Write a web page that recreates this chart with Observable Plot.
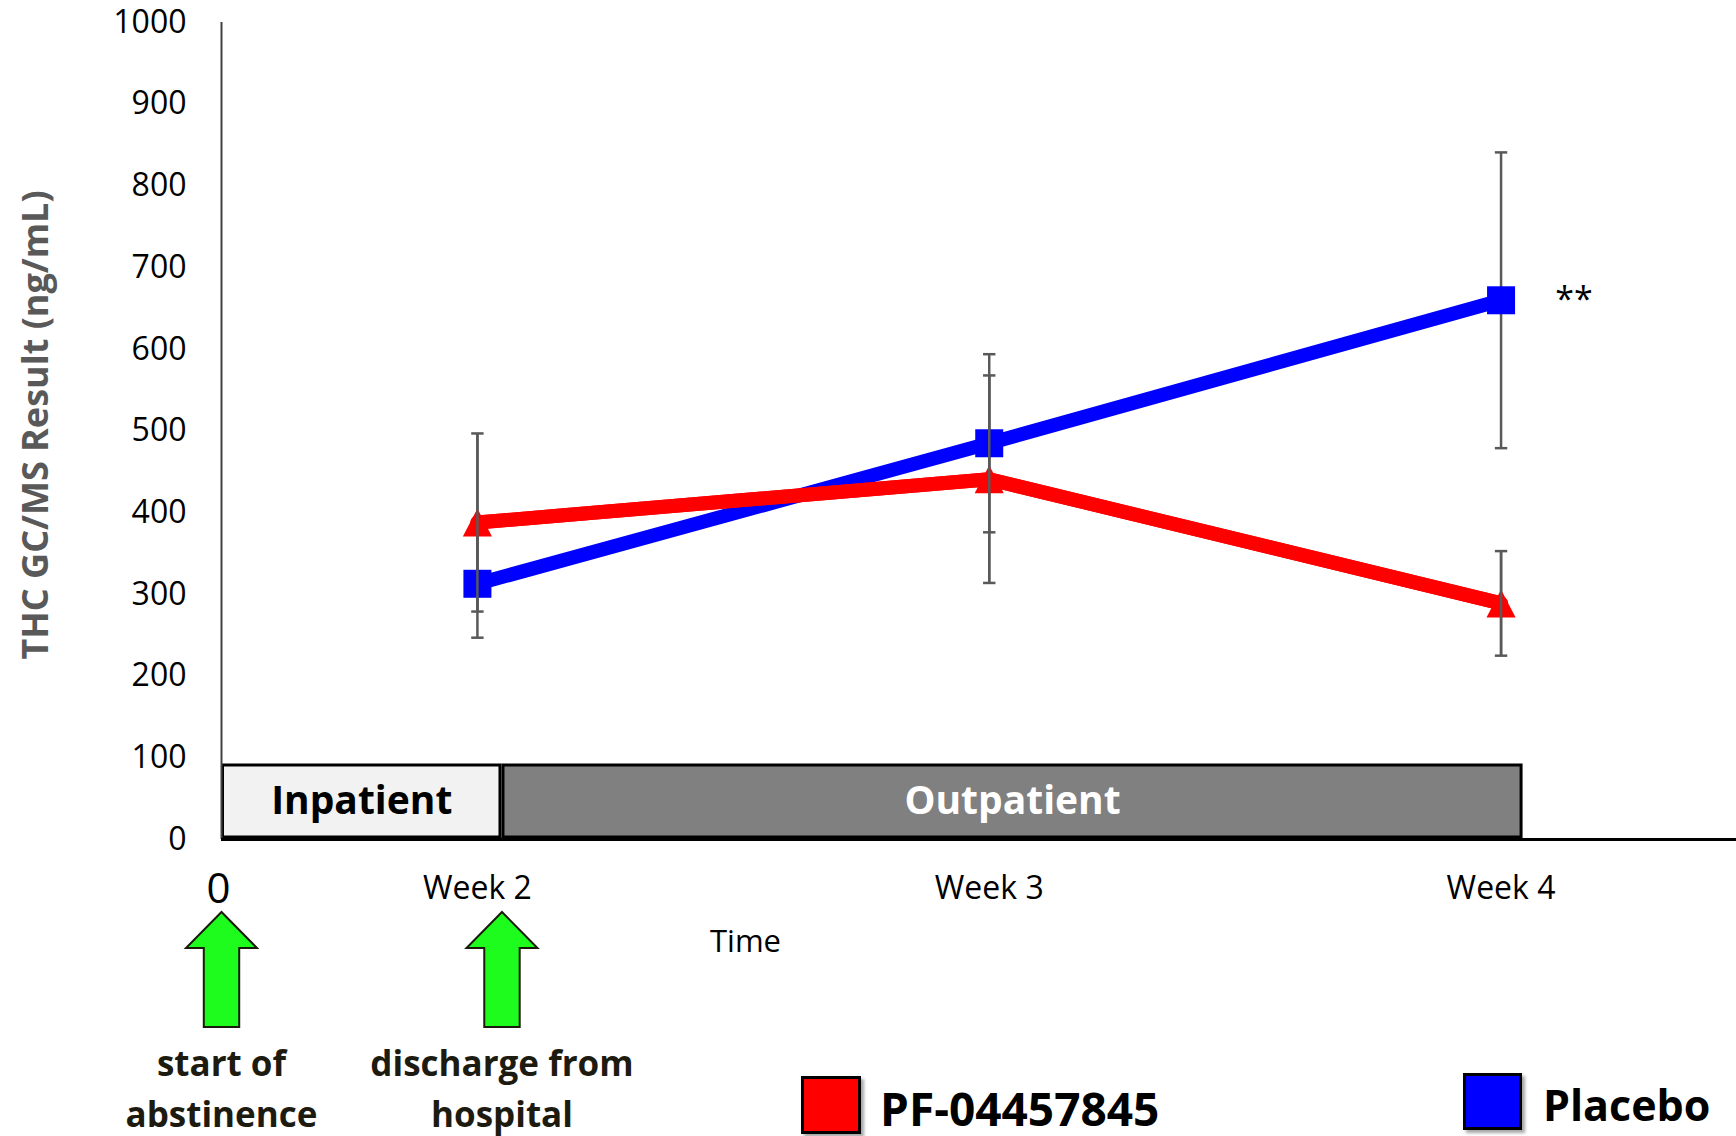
<!DOCTYPE html>
<html>
<head>
<meta charset="utf-8">
<script src="https://cdn.jsdelivr.net/npm/d3@7"></script>
<script src="https://cdn.jsdelivr.net/npm/@observablehq/plot@0.6"></script>
<style>
  body { margin: 0; background: #fff; }
  #figure { position: relative; width: 1736px; height: 1136px; font-family: "Open Sans", sans-serif; }
  .legend-item { position: absolute; display: flex; align-items: center; }
  .swatch { box-sizing: border-box; border: 3px solid #000; box-shadow: 3px 3px 3px rgba(0,0,0,0.35); }
  .legend-label { font-weight: 700; color: #000; line-height: 1.1; white-space: nowrap; }
</style>
</head>
<body>
<div id="figure"></div>
<script>
// Study weeks on the time axis and their labels
const weeks = [2, 3, 4];
const weekLabels = ["Week 2", "Week 3", "Week 4"];
const timeZero = 1.5;           // axis origin = start of abstinence
const originLabel = "0";

// THC GC/MS result (ng/mL), mean and standard error
const seriesNames = ["Placebo", "PF-04457845"];
const seriesColors = ["#0000ff", "#ff0000"];
const placeboMean = [313, 485, 660];
const placeboSem = [66, 109, 181];
const pfMean = [388, 441, 289];
const pfSem = [109, 127, 64];
const significance = ["", "", "**"];

// y axis ticks
const yTicks = [0, 100, 200, 300, 400, 500, 600, 700, 800, 900, 1000];
const yTitle = "THC GC/MS Result (ng/mL)";

// treatment phases along the time axis
const phaseNames = ["Inpatient", "Outpatient"];
const phaseStart = [1.5, 2.048];
const phaseEnd = [2.048, 4.043];
const phaseFill = ["#f2f2f2", "#808080"];
const phaseText = ["#000000", "#ffffff"];

// events marked with arrows below the axis
const eventAt = [1.5, 2.048];
const eventNames = ["start of\nabstinence", "discharge from\nhospital"];

// legend order
const legendNames = ["PF-04457845", "Placebo"];
const legendColors = ["#ff0000", "#0000ff"];

// ---- tables built from the arrays above ----
const means = [placeboMean, pfMean];
const sems = [placeboSem, pfSem];
const rows = seriesNames.flatMap((s, i) => weeks.map((w, j) => ({
  series: s, week: w, mean: means[i][j], sem: sems[i][j], sig: i === 0 ? significance[j] : ""
})));
const phases = phaseNames.map((n, i) => ({name: n, start: phaseStart[i], end: phaseEnd[i], fill: phaseFill[i], text: phaseText[i]}));
const events = eventNames.map((n, i) => ({name: n, at: eventAt[i]}));
const ticksX = weeks.map((w, i) => ({week: w, label: weekLabels[i]}));
const colorOf = Object.fromEntries(seriesNames.map((s, i) => [s, seriesColors[i]]));

// ---- custom marker shapes (size -> r = sqrt(size / PI)) ----
const rOf = (size) => Math.sqrt(size / Math.PI);
const triangleUp = { draw(ctx, size) { const r = rOf(size);
  ctx.moveTo(0, -r); ctx.lineTo(r * 1.04, r); ctx.lineTo(-r * 1.04, r); ctx.closePath(); } };
const squareMark = { draw(ctx, size) { const r = rOf(size);
  ctx.moveTo(-r, -r); ctx.lineTo(r, -r); ctx.lineTo(r, r); ctx.lineTo(-r, r); ctx.closePath(); } };
const capMark = { draw(ctx, size) { const r = rOf(size);
  ctx.moveTo(-r, 0); ctx.lineTo(r, 0); } };
const blockArrow = { draw(ctx, size) { const r = rOf(size);
  const hw = 0.617 * r, sw = 0.308 * r, hh = 0.626 * r;
  ctx.moveTo(0, -r); ctx.lineTo(hw, -r + hh); ctx.lineTo(sw, -r + hh); ctx.lineTo(sw, r);
  ctx.lineTo(-sw, r); ctx.lineTo(-sw, -r + hh); ctx.lineTo(-hw, -r + hh); ctx.closePath(); } };

const errColor = "#595959";
const byName = (n) => (d) => d.series === n;

const marks = [
  // treatment phase boxes
  Plot.rect(phases, {x1: "start", x2: "end", fill: "fill", stroke: "#000", strokeWidth: 3,
    insetTop: 743, insetBottom: 2, insetLeft: 1.5, insetRight: 1.5}),
  Plot.text(phases, {x: d => (d.start + d.end) / 2, text: "name", fill: "text", frameAnchor: "bottom", lineAnchor: "middle",
    dy: -38, fontSize: 39, fontWeight: 700}),
  // axes lines
  Plot.ruleX([timeZero], {stroke: "#404040", strokeWidth: 2}),
  Plot.ruleY([0], {stroke: "#000", strokeWidth: 3}),
  Plot.axisY(yTicks, {tickSize: 0, tickPadding: 35, fontSize: 32, label: null, fill: "#000", tickFormat: d => String(d)}),
  Plot.text([yTitle], {frameAnchor: "left", textAnchor: "middle", lineAnchor: "middle", dx: -185, dy: -6, rotate: -90,
    fontSize: 36, fontWeight: 700, fill: "#595959"}),
  // x tick labels and title
  Plot.text(ticksX, {x: "week", text: "label", frameAnchor: "bottom", lineAnchor: "middle", dy: 49, fontSize: 32, fill: "#000"}),
  Plot.text([originLabel], {x: timeZero, text: d => d, frameAnchor: "bottom", lineAnchor: "middle", dy: 50, dx: -3, fontSize: 42, fill: "#000"}),
  Plot.text(["Time"], {frameAnchor: "bottom-left", text: d => d, dx: 524, dy: 103, textAnchor: "middle", lineAnchor: "middle",
    fontSize: 31, fill: "#000"}),
  // error bars
  Plot.ruleX(rows, {x: "week", y1: d => d.mean - d.sem, y2: d => d.mean + d.sem, stroke: errColor, strokeWidth: 2.5}),
  Plot.dot(rows, {x: "week", y: d => d.mean + d.sem, symbol: capMark, r: 6.2, stroke: errColor, strokeWidth: 2.5, fill: "none"}),
  Plot.dot(rows, {x: "week", y: d => d.mean - d.sem, symbol: capMark, r: 6.2, stroke: errColor, strokeWidth: 2.5, fill: "none"}),
  // series lines and markers
  Plot.line(rows, {x: "week", y: "mean", z: "series", stroke: d => colorOf[d.series], strokeWidth: 14, strokeLinejoin: "round"}),
  Plot.dot(rows.filter(byName("Placebo")), {x: "week", y: "mean", symbol: squareMark, r: 14, fill: colorOf["Placebo"], stroke: "none"}),
  Plot.line(rows.filter(byName("PF-04457845")), {x: "week", y: "mean", stroke: colorOf["PF-04457845"], strokeWidth: 14, strokeLinejoin: "round"}),
  Plot.dot(rows.filter(byName("PF-04457845")), {x: "week", y: "mean", symbol: triangleUp, r: 14, fill: colorOf["PF-04457845"], stroke: "none"}),
  Plot.ruleX(rows.filter(byName("PF-04457845")), {x: "week", y1: d => d.mean - d.sem, y2: d => d.mean + d.sem, stroke: errColor, strokeWidth: 2.5}),
  // significance marker
  Plot.text(rows.filter(d => d.sig), {x: "week", y: "mean", text: "sig", dx: 73, dy: 0, fontSize: 34, fill: "#000"}),
  // event arrows and captions
  Plot.dot(events, {x: "at", frameAnchor: "bottom", dy: 130, symbol: blockArrow, r: 57.5,
    fill: "#1dfc1d", stroke: "#1a1a0a", strokeWidth: 2}),
  Plot.text(events, {x: "at", text: "name", frameAnchor: "bottom", dy: 246, lineAnchor: "middle", lineHeight: 1.45,
    fontSize: 35, fontWeight: 700, fill: "#1d1b10"})
];

const chart = Plot.plot({
  width: 1736,
  height: 1136,
  marginLeft: 221,
  marginRight: 0,
  marginTop: 22,
  marginBottom: 297,
  style: {fontFamily: "Open Sans, sans-serif", background: "#fff", color: "#000"},
  x: {domain: [timeZero, 4.46], axis: null},
  y: {domain: [0, 1000], axis: null},
  color: {type: "identity"},
  marks
});

const fig = document.getElementById("figure");
fig.appendChild(chart);

// legend below the plot area
const legendLayout = [
  {left: 801, top: 1076, w: 60, h: 58, gap: 19, size: 46, shift: 3},
  {left: 1463, top: 1073, w: 59, h: 57, gap: 21, size: 43, shift: 3}
];
legendNames.forEach((name, i) => {
  const L = legendLayout[i];
  const item = document.createElement("div");
  item.className = "legend-item";
  item.style.left = L.left + "px";
  item.style.top = L.top + "px";
  item.style.height = L.h + "px";
  const sw = document.createElement("div");
  sw.className = "swatch";
  sw.style.width = L.w + "px";
  sw.style.height = L.h + "px";
  sw.style.background = legendColors[i];
  const lab = document.createElement("span");
  lab.className = "legend-label";
  lab.textContent = name;
  lab.style.fontSize = L.size + "px";
  lab.style.marginLeft = L.gap + "px";
  lab.style.transform = `translateY(${L.shift}px)`;
  item.appendChild(sw);
  item.appendChild(lab);
  fig.appendChild(item);
});
</script>
</body>
</html>
